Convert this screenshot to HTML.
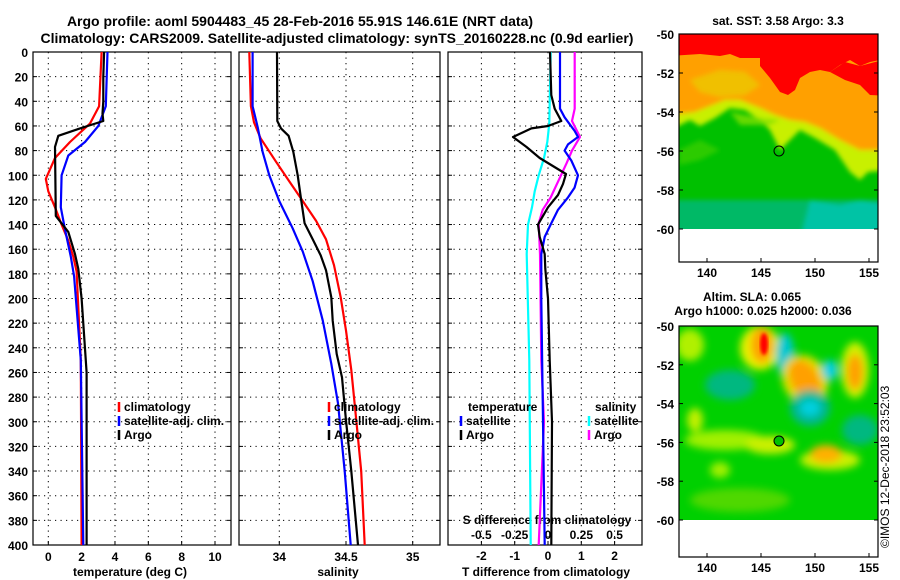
<!DOCTYPE html>
<html><head><meta charset="utf-8"><style>
body{margin:0;background:#fff;}
svg{display:block;font-family:"Liberation Sans",sans-serif;font-weight:bold;}
</style></head><body>
<svg id="c" width="900" height="580" viewBox="0 0 900 580" xmlns="http://www.w3.org/2000/svg">
<defs>
<filter id="blur4" x="-20%" y="-20%" width="140%" height="140%"><feGaussianBlur stdDeviation="4"/></filter>
<filter id="blur2"><feGaussianBlur stdDeviation="1.5"/></filter>
<filter id="blur3" x="-10%" y="-10%" width="120%" height="120%"><feGaussianBlur stdDeviation="2.5"/></filter>
<clipPath id="clipTop"><rect x="679" y="34" width="199" height="195"/></clipPath>
<clipPath id="clipBot"><rect x="679" y="326" width="199" height="194"/></clipPath>
</defs>
<text x="300" y="26" font-size="14" text-anchor="middle">Argo profile: aoml 5904483_45 28-Feb-2016 55.91S 146.61E (NRT data)</text>
<text x="337" y="43" font-size="14" text-anchor="middle">Climatology: CARS2009. Satellite-adjusted climatology: synTS_20160228.nc (0.9d earlier)</text>
<g id="p1"></g>
<g id="p2"></g>
<g id="p3"></g>

<!-- top map -->
<g>
<text x="778" y="25" font-size="12" text-anchor="middle">sat. SST: 3.58 Argo: 3.3</text>
<g clip-path="url(#clipTop)">
<rect x="679" y="34" width="199" height="195" fill="#00c000"/>
<g filter="url(#blur3)">
<path d="M670,20H890V170L868,172L860,180L850,172L835,150L815,138L800,130L790,140L780,150L770,130L760,120L745,110L730,108L715,118L700,126L690,120L670,130Z" fill="#c8f000"/>
<path d="M670,20H890V150L860,150L840,140L820,128L805,122L790,120L775,115L760,108L740,100L725,100L710,106L695,112L670,115Z" fill="#ffa000"/>
<path d="M690,80L720,70L745,72L760,85L745,95L720,97L700,92Z" fill="#f0c000"/>
<path d="M730,112L760,118L780,120L770,125L740,125Z" fill="#80e000" opacity="0.8"/>
<path d="M670,200H890V240H670Z" fill="#00b880" opacity="0.8"/>
<path d="M810,200L840,205L860,200L890,205V240H800Z" fill="#00c8c0" opacity="0.7"/>
<path d="M679,150L700,140L720,150L700,160L679,165Z" fill="#40d000" opacity="0.7"/>
</g>
<path d="M670,20H890V58L870,62L860,66L850,60L840,65L830,72L820,70L810,72L800,78L795,90L788,95L780,92L775,85L770,78L760,66L760,58L740,58L730,54L720,56L700,54L670,56Z" fill="#ff0000"/>
<path d="M830,72L845,80L860,85L870,95L890,96V58L860,66L845,62Z" fill="#ff0000"/>
</g>
<rect x="679" y="229" width="199" height="34" fill="#fff"/>
<rect x="679" y="34" width="199" height="228" fill="none" stroke="#000" stroke-width="1.2"/>
<circle cx="779" cy="151" r="5" fill="none" stroke="#000" stroke-width="1"/>
</g>

<!-- bottom map -->
<g>
<text x="752" y="301" font-size="12" text-anchor="middle">Altim. SLA: 0.065</text>
<text x="763" y="315" font-size="12" text-anchor="middle">Argo h1000: 0.025 h2000: 0.036</text>
<g clip-path="url(#clipBot)">
<rect x="679" y="326" width="199" height="194" fill="#00d000"/>
<g filter="url(#blur4)">
<ellipse cx="690" cy="345" rx="14" ry="16" fill="#b0f000"/>
<ellipse cx="725" cy="440" rx="40" ry="10" fill="#a0f000"/>
<ellipse cx="770" cy="445" rx="25" ry="9" fill="#c8f000"/>
<ellipse cx="740" cy="500" rx="50" ry="12" fill="#50d800"/>
<ellipse cx="830" cy="460" rx="30" ry="10" fill="#c8f000"/>
<ellipse cx="760" cy="348" rx="20" ry="22" fill="#e8f000"/>
<ellipse cx="762" cy="345" rx="11" ry="18" fill="#ffa000"/>
<ellipse cx="785" cy="355" rx="9" ry="22" fill="#00c8d0"/>
<ellipse cx="805" cy="380" rx="22" ry="26" fill="#e0e000" transform="rotate(-30 805 380)"/>
<ellipse cx="805" cy="380" rx="14" ry="22" fill="#ffa000" transform="rotate(-30 805 380)"/>
<ellipse cx="810" cy="408" rx="20" ry="18" fill="#00b890"/>
<ellipse cx="810" cy="408" rx="10" ry="8" fill="#00d0e0"/>
<ellipse cx="830" cy="370" rx="8" ry="10" fill="#00d0e0"/>
<ellipse cx="855" cy="370" rx="14" ry="28" fill="#d0f000"/>
<ellipse cx="855" cy="372" rx="8" ry="18" fill="#ffa000"/>
<ellipse cx="826" cy="454" rx="16" ry="9" fill="#ffb000"/>
<ellipse cx="730" cy="385" rx="25" ry="15" fill="#00b880"/>
<ellipse cx="860" cy="430" rx="18" ry="15" fill="#00b880"/>
<ellipse cx="695" cy="420" rx="8" ry="12" fill="#c0f000"/>
<ellipse cx="720" cy="470" rx="10" ry="8" fill="#a0f000"/>
</g>
<ellipse cx="764" cy="344" rx="4" ry="11" fill="#ff0000" filter="url(#blur2)"/>
</g>
<rect x="679" y="520" width="199" height="37" fill="#fff"/>
<rect x="679" y="326" width="199" height="231" fill="none" stroke="#000" stroke-width="1.2"/>
<circle cx="779" cy="441" r="5" fill="#00c000" stroke="#000" stroke-width="1"/>
<text x="889" y="548" font-size="12" font-weight="normal" transform="rotate(-90 889 548)">©IMOS 12-Dec-2018 23:52:03</text>
</g>
<g id="maps-axes"></g>
</svg>
<script>
// ---------- data ----------
// Panel 1: temperature (depth, value)
const climTdepth = [0,44,58,73,86,103,113,126,140,153,166,178,250,400];
const climTval   = [3.2,3.05,2.5,1.3,0.4,-0.15,0,0.4,0.8,1.2,1.5,1.7,1.95,2.0];
const satTdepth  = [0,44,60,73,84,100,126,144,166,182,250,400];
const satTval    = [3.55,3.45,3.0,2.2,1.2,0.8,0.75,1.0,1.35,1.55,1.95,2.1];
const argoTdepth = [0,20,40,50,56,62,68,77,133,146,164,176,200,260,400];
const argoTval   = [3.35,3.3,3.3,3.25,3.3,1.9,0.6,0.4,0.45,1.2,1.6,1.8,2.0,2.3,2.3];
// Panel 2: salinity
const climSdepth = [0,44,57,70,89,105,121,137,152,173,199,226,258,299,340,400];
const climSval   = [33.775,33.787,33.81,33.86,33.975,34.075,34.176,34.276,34.35,34.41,34.46,34.50,34.54,34.577,34.614,34.64];
const satSdepth  = [0,44,61,81,100,121,143,162,186,218,253,285,340,400];
const satSval    = [33.80,33.80,33.838,33.875,33.925,34.0,34.10,34.176,34.25,34.326,34.39,34.44,34.49,34.535];
const argoSdepth = [0,56,62,68,81,100,119,139,152,165,177,199,218,245,264,299,340,400];
const argoSval   = [33.983,33.985,34.013,34.07,34.105,34.138,34.163,34.19,34.25,34.31,34.35,34.39,34.40,34.43,34.47,34.50,34.54,34.59];
// Panel 3: differences from climatology
const dTargoDepth = [0,35,46,56,60,62,69,77,86,99,107,116,126,140,150,164,176,200,250,300,400];
const dTargoVal   = [0.06,0.1,0.2,0.4,0.0,-0.5,-1.05,-0.65,-0.25,0.54,0.45,0.3,0.0,-0.3,-0.25,-0.1,-0.08,0.0,0.05,0.12,0.1];
const dTsatDepth  = [0,46,53,64,69,75,80,88,100,110,118,128,139,150,164,200,400];
const dTsatVal    = [0.36,0.36,0.5,0.8,0.9,0.6,0.5,0.7,0.9,0.8,0.6,0.3,0.1,-0.1,-0.2,-0.2,-0.1];
const dSargoDepth = [0,46,56,69,80,90,104,118,128,139,164,250,300,400];
const dSargoVal   = [0.2,0.2,0.18,0.24,0.18,0.14,0.08,0.02,-0.04,-0.07,-0.06,-0.05,-0.03,-0.07];
const dSsatDepth  = [0,58,73,86,100,113,126,140,164,250,400];
const dSsatVal    = [0.02,0.01,-0.005,-0.03,-0.07,-0.1,-0.12,-0.15,-0.16,-0.14,-0.13];
// ticks
const depthTicks = [0,20,40,60,80,100,120,140,160,180,200,220,240,260,280,300,320,340,360,380,400];
const tempTicks = [0,2,4,6,8,10];
const salTicks = [34,34.5,35];
const salTickLabels = ["34","34.5","35"];
const dTTicks = [-2,-1,0,1,2];
const dTTickLabels = ["-2","-1","0","1","2"];
const dSTicks = [-0.5,-0.25,0,0.25,0.5];
const dSTickLabels = ["-0.5","-0.25","0","0.25","0.5"];
const latTicks = [-50,-52,-54,-56,-58,-60];
const lonTicks = [140,145,150,155];

// ---------- axes ----------
const NS="http://www.w3.org/2000/svg";
const svg=document.getElementById('c');
const TOP=52, BOT=545;
const yD = d => TOP + d*(BOT-TOP)/400;
const xT = t => 48.3 + t*16.67;
const xS = s => 279.3 + (s-34)*133.4;
const xDT = t => 548 + t*33.3;
const xDS = s => 548 + s*133.3;
function el(tag, attrs, parent){const e=document.createElementNS(NS,tag);for(const k in attrs)e.setAttribute(k,attrs[k]);(parent||svg).appendChild(e);return e;}
function txt(parent,x,y,s,anchor,size){const t=el('text',{x:x,y:y,'font-size':size||12,'text-anchor':anchor||'middle'},parent);t.textContent=s;return t;}

function frame(g,x0,x1,gridXs,name){
  depthTicks.forEach((d,i)=>{
    if(i>0&&i<depthTicks.length-1){
      const l=el('line',{x1:x0,x2:x1,y1:yD(d),y2:yD(d),stroke:'#000','stroke-width':1,'stroke-dasharray':'1.2,4.3'},g);
      
      
    }
    el('line',{x1:x0,x2:x0+4,y1:yD(d),y2:yD(d),stroke:'#000'},g);
    el('line',{x1:x1-4,x2:x1,y1:yD(d),y2:yD(d),stroke:'#000'},g);
  });
  gridXs.forEach(x=>{
    const l=el('line',{x1:x,x2:x,y1:TOP,y2:BOT,stroke:'#000','stroke-width':1,'stroke-dasharray':'1.2,4.3'},g);
    
    
    el('line',{x1:x,x2:x,y1:BOT-4,y2:BOT,stroke:'#000'},g);
  });
  const r=el('rect',{x:x0,y:TOP,width:x1-x0,height:BOT-TOP,fill:'none',stroke:'#000','stroke-width':1.2},g);
  
  
}
function series(g,ds,vs,xf,color,w,name){
  const pts=ds.map((d,i)=>xf(vs[i]).toFixed(1)+','+yD(d).toFixed(1)).join(' ');
  const p=el('polyline',{points:pts,fill:'none',stroke:color,'stroke-width':w,'stroke-linejoin':'round'},g);
  
  
}
function legend(g,x,y,color,label,name){
  el('line',{x1:x,x2:x,y1:y-9,y2:y+1,stroke:color,'stroke-width':2.5},g);
  const t=txt(g,x+5,y,label,'start',12);
  
  
}
const LW=2.2;
// Panel 1
const p1=document.getElementById('p1');
frame(p1,33,231,tempTicks.map(xT),'temp');
depthTicks.forEach(d=>{const t=txt(p1,28,yD(d)+5,String(d),'end',12);
  
  });
tempTicks.forEach(v=>{const t=txt(p1,xT(v),561,String(v));
  
  });
const xl1=txt(p1,130,576,'temperature (deg C)');


series(p1,climTdepth,climTval,xT,'#f00',LW,'clim-temp-line');
series(p1,satTdepth,satTval,xT,'#00f',LW,'sat-temp-line');
series(p1,argoTdepth,argoTval,xT,'#000',LW,'argo-temp-line');
legend(p1,119,411,'#f00','climatology','legend-climatology');
legend(p1,119,425,'#00f','satellite-adj. clim.','legend-satellite');
legend(p1,119,439,'#000','Argo','legend-argo');

// Panel 2
const p2=document.getElementById('p2');
frame(p2,239,440,salTicks.map(xS),'sal');
salTicks.forEach((v,i)=>{const t=txt(p2,xS(v),561,salTickLabels[i]);
  
  });
const xl2=txt(p2,338,576,'salinity');


series(p2,climSdepth,climSval,xS,'#f00',LW,'clim-sal-line');
series(p2,satSdepth,satSval,xS,'#00f',LW,'sat-sal-line');
series(p2,argoSdepth,argoSval,xS,'#000',LW,'argo-sal-line');
legend(p2,329,411,'#f00','climatology','legend-climatology-2');
legend(p2,329,425,'#00f','satellite-adj. clim.','legend-satellite-2');
legend(p2,329,439,'#000','Argo','legend-argo-2');

// Panel 3
const p3=document.getElementById('p3');
frame(p3,448,642,dTTicks.map(xDT),'diff');
dTTicks.forEach((v,i)=>{const t=txt(p3,xDT(v),560,dTTickLabels[i]);
  
  });
dSTicks.forEach((v,i)=>{const t=txt(p3,xDS(v),539,dSTickLabels[i]);
  
  });
const sl=txt(p3,547,524,'S difference from climatology');


const xl3=txt(p3,546,576,'T difference from climatology');


series(p3,dSsatDepth,dSsatVal,xDS,'#0ff',LW,'sal-sat-diff-line');
series(p3,dSargoDepth,dSargoVal,xDS,'#f0f',LW,'sal-argo-diff-line');
series(p3,dTsatDepth,dTsatVal,xDT,'#00f',LW,'temp-sat-diff-line');
series(p3,dTargoDepth,dTargoVal,xDT,'#000',LW,'temp-argo-diff-line');
const lt=txt(p3,468,411,'temperature','start');


legend(p3,461,425,'#00f','satellite','legend-temp-satellite');
legend(p3,461,439,'#000','Argo','legend-temp-argo');
const ls=txt(p3,595,411,'salinity','start');


legend(p3,589,425,'#0ff','satellite','legend-sal-satellite');
legend(p3,589,439,'#f0f','Argo','legend-sal-argo');

// map axes
const ma=document.getElementById('maps-axes');
const xLon = l => 707 + (l-140)*10.8;
[[34,229,262],[326,520,557]].forEach((m,k)=>{
  const latY = la => m[0] + (-50-la)*(m[1]-m[0])/10;
  latTicks.forEach(la=>{
    el('line',{x1:679,x2:683,y1:latY(la),y2:latY(la),stroke:'#000'},ma);
    el('line',{x1:874,x2:878,y1:latY(la),y2:latY(la),stroke:'#000'},ma);
    const t=txt(ma,674,latY(la)+5,String(la),'end',12);
    
    
  });
  lonTicks.forEach(lo=>{
    el('line',{x1:xLon(lo),x2:xLon(lo),y1:m[2]-4,y2:m[2],stroke:'#000'},ma);
    const t=txt(ma,xLon(lo),m[2]+15,String(lo),'middle',12);
    
    
  });
});
</script>
</body></html>
